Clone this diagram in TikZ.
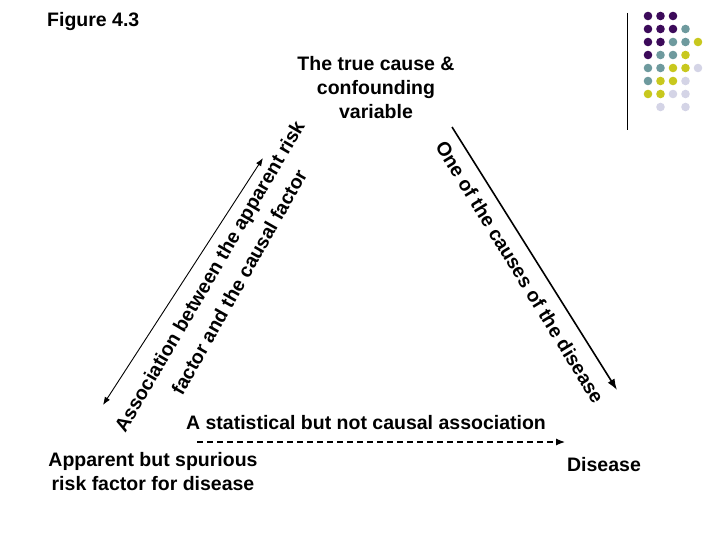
\documentclass[tikz,border=0pt]{standalone}
\usepackage{fontspec}
\setmainfont{Liberation Sans}
\usetikzlibrary{arrows.meta}
\definecolor{cP}{HTML}{3C0A5A}
\definecolor{cT}{HTML}{6E9A9E}
\definecolor{cY}{HTML}{C8C81E}
\definecolor{cL}{HTML}{D4D4E6}
\tikzset{lbl/.style={font=\bfseries\fontsize{19.5}{24}\selectfont,align=center,inner sep=0},
rlbl/.style={font=\bfseries\fontsize{19.5}{20}\selectfont,inner sep=0},
arr/.style={-{Latex[length=11pt,width=8pt]},line width=1.6pt}}
\begin{document}
\begin{tikzpicture}[x=1pt,y=-1pt]
\useasboundingbox (0,0) rectangle (720,540);
\node[lbl,anchor=west] (fig) at (47,22) {Figure 4.3};
\draw[line width=0.8pt] (627,13) -- (627,130);
\foreach \row/\cols in {0/{P,P,P},1/{P,P,P,T},2/{P,P,T,T,Y},3/{P,T,T,Y},4/{T,T,Y,Y,L},5/{T,Y,Y,L},6/{Y,Y,L,L}}{
  \foreach \c [count=\i from 0] in \cols {\fill[c\c] (648+12.5*\i,16+13*\row) circle (4.3);}}
\fill[cL] (660.5,107) circle (4.3); \fill[cL] (685.5,107) circle (4.3);
\node[lbl] (top) at (376,88) {The true cause \&\\confounding\\variable};
\node[lbl] (app) at (153,472) {Apparent but spurious\\risk factor for disease};
\node[lbl] (dis) at (604,465) {Disease};
\node[lbl] (stat) at (366,423) {A statistical but not causal association};
\coordinate (la) at (103,405); \coordinate (lb) at (263,158);
\draw[{Latex[length=8pt,width=6pt]}-{Latex[length=8pt,width=6pt]},line width=0.9pt] (la) -- (lb);
\node[rlbl,rotate=59.7] (l1) at (211,277) {Association between the apparent risk};
\node[rlbl,rotate=60.5] (l2) at (239,282) {factor and the causal factor};
\coordinate (ra) at (452,127); \coordinate (rb) at (617,390);
\draw[arr] (ra) -- (rb);
\node[rlbl,rotate=-58.5] (r1) at (520,272) {One of the causes of the disease};
\coordinate (da) at (197,442); \coordinate (db) at (565,442);
\draw[-{Latex[length=9pt,width=7pt]},dash pattern=on 6pt off 4pt,line width=1.2pt] (da) -- (db);
\end{tikzpicture}
\end{document}
